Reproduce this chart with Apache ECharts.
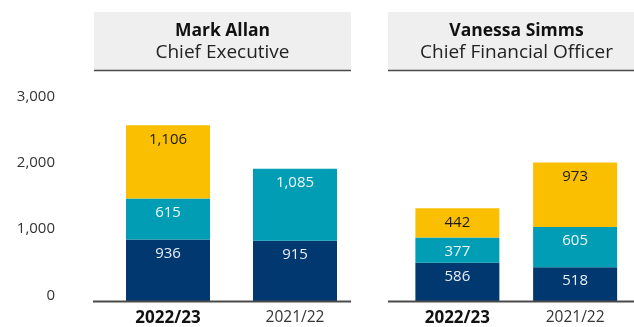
<!DOCTYPE html>
<html>
<head>
<meta charset="utf-8">
<style>
  html, body { margin: 0; padding: 0; background: #ffffff; }
  #chart { width: 634px; height: 327px; }
</style>
<script src="https://cdn.jsdelivr.net/npm/echarts@6/dist/echarts.min.js"></script>
</head>
<body>
<div id="chart"></div>
<script>
// Remuneration (£000) per executive, stacked by pay element
const years = ['2022/23', '2021/22'];
const executives = [
  { name: 'Mark Allan', role: 'Chief Executive' },
  { name: 'Vanessa Simms', role: 'Chief Financial Officer' }
];
const fixedPay = [[936, 915], [586, 518]];
const annualBonus = [[615, 1085], [377, 605]];
const longTermIncentive = [[1106, null], [442, 973]];
const yTicks = [0, 1000, 2000, 3000];

const NAVY = '#01386f';
const TEAL = '#009db5';
const YELLOW = '#fabf00';
const FONT = '"Open Sans"';

const chart = echarts.init(document.getElementById('chart'), null, { renderer: 'canvas' });

const fmt = v => v.toLocaleString('en-GB');

// panel frames: header box and baseline span
const panels = [
  { boxLeft: 94, boxWidth: 257, gridLeft: 104.5, lineLeft: 93, lineRight: 351 },
  { boxLeft: 388, boxWidth: 257, gridLeft: 398.5, lineLeft: 388, lineRight: 634 }
];
const gridTop = 102.5;
const gridBottom = 25.5;
const gridWidth = 254;

const grids = panels.map(p => ({ left: p.gridLeft, top: gridTop, width: gridWidth, bottom: gridBottom }));

const xAxes = panels.map((p, i) => ({
  type: 'category',
  gridIndex: i,
  data: years,
  axisLine: { show: false },
  axisTick: { show: false },
  axisLabel: {
    margin: 8,
    formatter: (v, idx) => idx === 0 ? '{b|' + v + '}' : '{r|' + v + '}',
    rich: {
      b: { fontFamily: FONT, fontSize: 17, fontWeight: 'bold', color: '#111' },
      r: { fontFamily: FONT, fontSize: 15.5, color: '#333' }
    }
  }
}));

const yAxes = panels.map((p, i) => ({
  type: 'value',
  gridIndex: i,
  min: yTicks[0],
  max: yTicks[yTicks.length - 1],
  interval: yTicks[1] - yTicks[0],
  splitLine: { show: false },
  axisLine: { show: false },
  axisTick: { show: false },
  axisLabel: {
    show: i === 0,
    margin: 49.5,
    verticalAlign: 'bottom',
    lineHeight: 12,
    fontFamily: FONT,
    fontSize: 15,
    color: '#333',
    formatter: v => fmt(v)
  }
}));

function segLabel(color) {
  return {
    show: true,
    position: 'insideTop',
    distance: 6.5,
    fontFamily: FONT,
    fontSize: 15,
    color: color,
    formatter: p => (p.value == null ? '' : fmt(p.value))
  };
}

const series = [];
panels.forEach((p, i) => {
  const stack = 'pay' + i;
  series.push({
    name: 'Fixed pay', type: 'bar', stack, xAxisIndex: i, yAxisIndex: i,
    barWidth: 84, data: fixedPay[i],
    itemStyle: { color: NAVY }, label: segLabel('#e9eef5')
  });
  series.push({
    name: 'Annual bonus', type: 'bar', stack, xAxisIndex: i, yAxisIndex: i,
    barWidth: 84, data: annualBonus[i],
    itemStyle: { color: TEAL }, label: segLabel('#eef7fa')
  });
  series.push({
    name: 'Long-term incentive', type: 'bar', stack, xAxisIndex: i, yAxisIndex: i,
    barWidth: 84, data: longTermIncentive[i],
    itemStyle: { color: YELLOW }, label: segLabel('#1a1a1a')
  });
});

// header boxes and baselines
const graphics = [];
panels.forEach((p, i) => {
  const cx = p.boxLeft + p.boxWidth / 2;
  graphics.push({ type: 'rect', shape: { x: p.boxLeft, y: 12, width: p.boxWidth, height: 58 }, style: { fill: '#efefef' }, silent: true });
  graphics.push({ type: 'line', shape: { x1: p.boxLeft, y1: 70.5, x2: p.boxLeft + p.boxWidth, y2: 70.5 }, style: { stroke: '#4a4a4a', lineWidth: 1.5 }, silent: true });
  graphics.push({ type: 'text', x: cx, y: 31, style: { text: executives[i].name, fontFamily: FONT, fontSize: 17.5, fontWeight: 'bold', fill: '#111', align: 'center', verticalAlign: 'middle' } });
  graphics.push({ type: 'text', x: cx, y: 53, style: { text: executives[i].role, fontFamily: FONT, fontSize: 19, fill: '#222', align: 'center', verticalAlign: 'middle' } });
  graphics.push({ type: 'line', z: 10, shape: { x1: p.lineLeft, y1: 301.5, x2: p.lineRight, y2: 301.5 }, style: { stroke: '#4a4a4a', lineWidth: 2 }, silent: true });
});

chart.setOption({
  animation: false,
  backgroundColor: '#ffffff',
  grid: grids,
  xAxis: xAxes,
  yAxis: yAxes,
  series: series,
  graphic: graphics
});
</script>
</body>
</html>
